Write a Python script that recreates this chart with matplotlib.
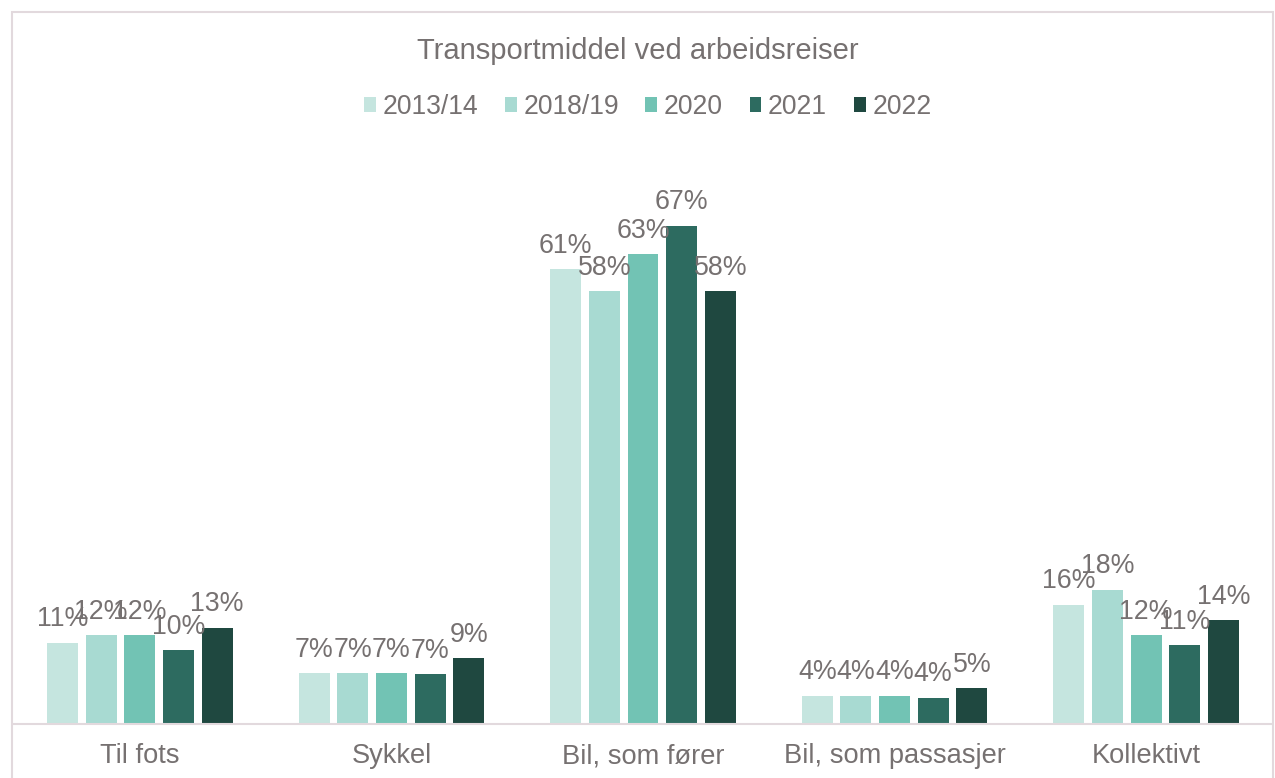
import matplotlib.pyplot as plt
import numpy as np
from matplotlib.patches import Rectangle

plt.rcParams['font.family'] = ['Liberation Sans', 'DejaVu Sans']

categories = ["Til fots", "Sykkel", "Bil, som fører", "Bil, som passasjer", "Kollektivt"]
years = ["2013/14", "2018/19", "2020", "2021", "2022"]

# shares in percent
v_2013 = [10.9, 6.8, 61.0, 3.8, 16.0]
v_2018 = [11.9, 6.8, 58.0, 3.8, 18.0]
v_2020 = [11.9, 6.8, 63.0, 3.8, 11.9]
v_2021 = [9.9, 6.7, 66.8, 3.52, 10.6]
v_2022 = [12.9, 8.8, 58.0, 4.8, 13.9]

series = [v_2013, v_2018, v_2020, v_2021, v_2022]
colors = ["#C5E5DF", "#A8DAD2", "#72C3B4", "#2D6B60", "#1F4840"]
txt = "#767171"
edge = "#E2D9DD"

fig = plt.figure(figsize=(12.75, 7.78), dpi=100)
# chart border (open at the bottom, as in the original crop)
fig.patches.append(Rectangle((12 / 1275, -0.01), 1261 / 1275, 766 / 778 + 0.01, transform=fig.transFigure,
                             fill=False, edgecolor=edge, linewidth=1.5))

ax = fig.add_axes([14 / 1275, 54 / 778, 1258 / 1275, 80 * 7.46 / 778])

x = np.arange(len(categories))
pitch = 0.1536
width = 0.123
for i, (vals, c) in enumerate(zip(series, colors)):
    pos = x + (i - 2) * pitch
    ax.bar(pos, vals, width=width, color=c, label=years[i], zorder=2)
    for p, v in zip(pos, vals):
        ax.annotate(f"{v:.0f}%", (p, v), xytext=(0, 7.5), textcoords="offset points",
                    ha="center", va="bottom", fontsize=19.3, color=txt)

ax.set_xlim(-0.5, 4.5)
ax.set_ylim(0, 80)
ax.set_yticks([])
ax.set_xticks(x)
ax.set_xticklabels(categories, fontsize=19.6, color=txt)
ax.tick_params(axis="x", length=0, pad=14)
for s in ["top", "right", "left"]:
    ax.spines[s].set_visible(False)
ax.spines["bottom"].set_color(edge)
ax.spines["bottom"].set_linewidth(1.5)

fig.text(0.5, 1 - 51 / 778, "Transportmiddel ved arbeidsreiser", ha="center", va="center",
         fontsize=21, color=txt)

leg = fig.legend(loc="center", bbox_to_anchor=(0.508, 1 - 107 / 778), ncol=5, frameon=False,
                 fontsize=19.1, handlelength=0.45, handleheight=0.45, handletextpad=0.25,
                 columnspacing=1.0, labelcolor=txt)

fig.savefig("out.png", dpi=100)
